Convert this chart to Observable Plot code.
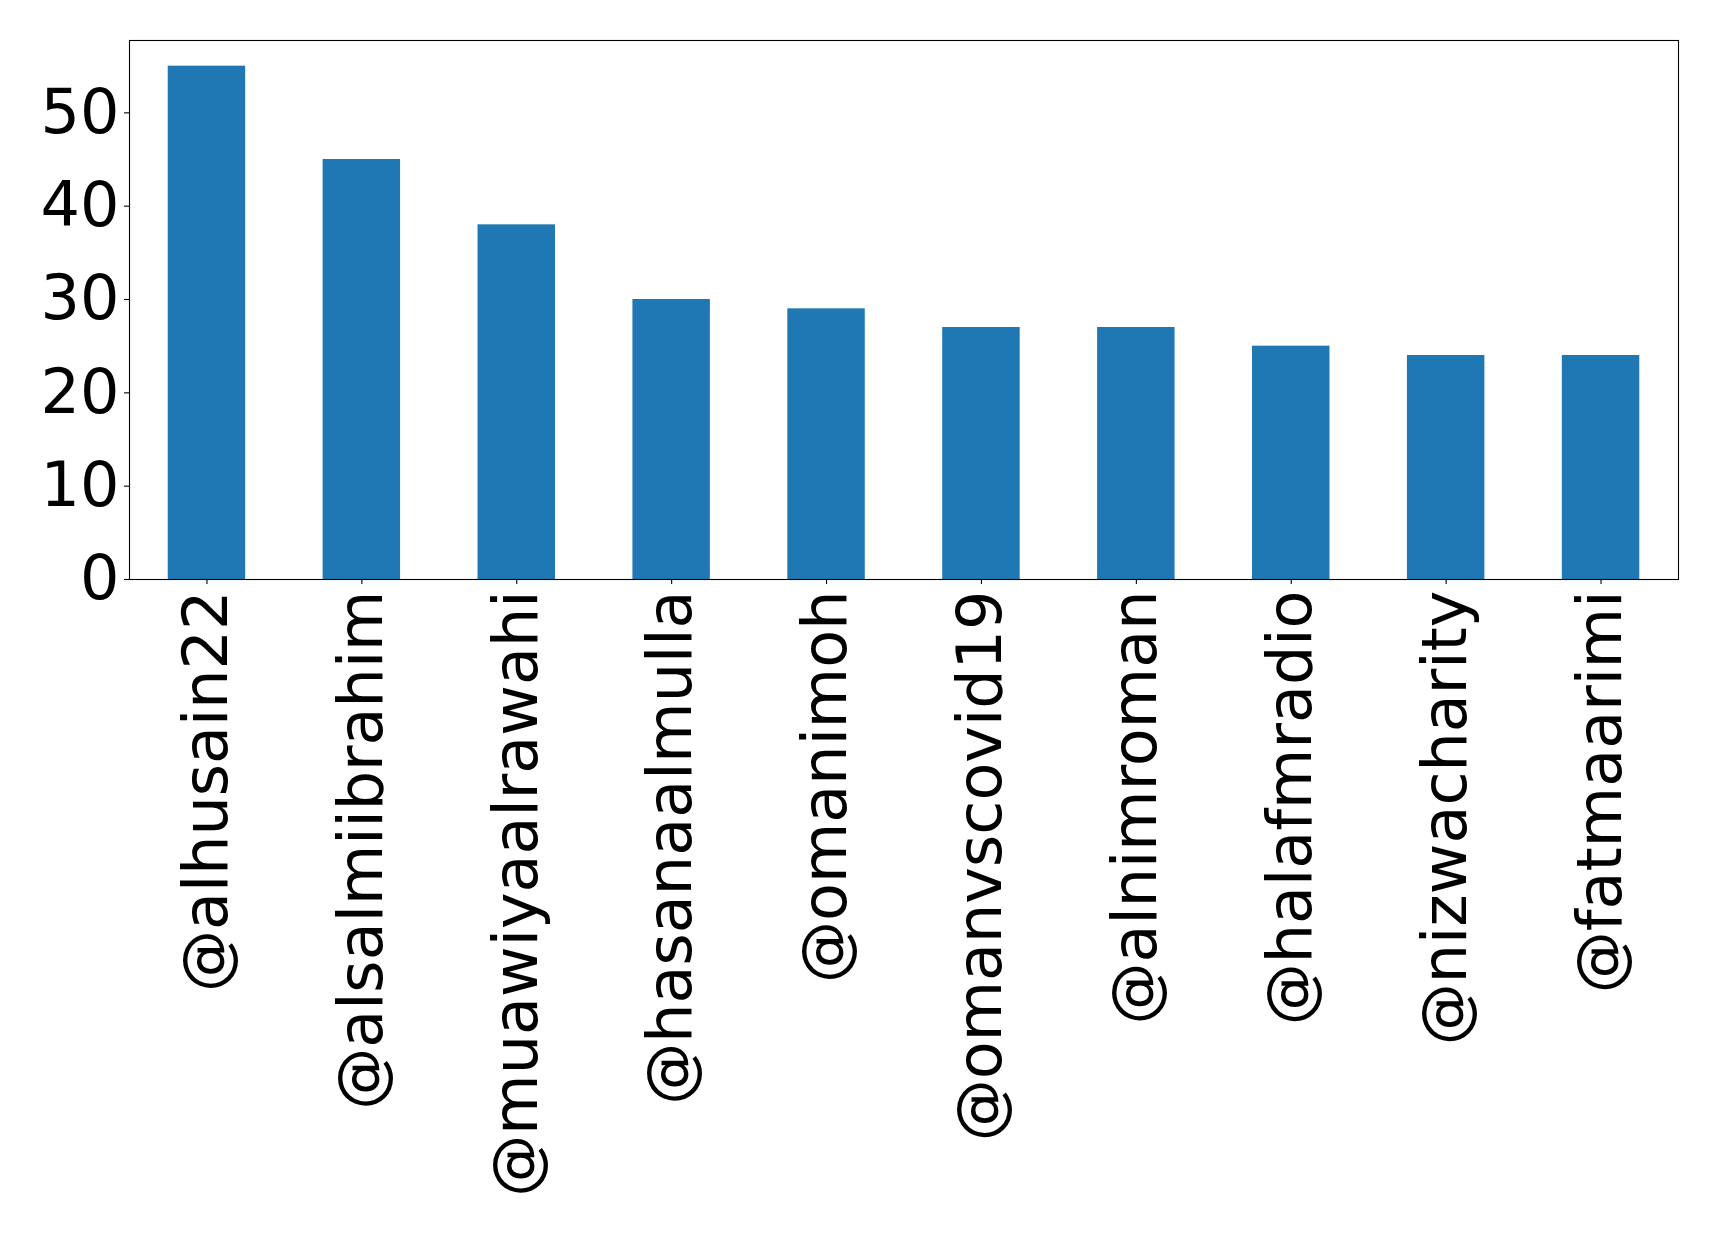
<!DOCTYPE html>
<html>
<head>
<meta charset="utf-8">
<script src="https://cdn.jsdelivr.net/npm/d3@7"></script>
<script src="https://cdn.jsdelivr.net/npm/@observablehq/plot@0.6"></script>
<style>
  html, body { margin: 0; padding: 0; background: #fff; }
  #chart svg { display: block; }
</style>
</head>
<body>
<div id="chart"></div>
<script>
const accounts = ["@alhusain22", "@alsalmiibrahim", "@muawiyaalrawahi", "@hasanaalmulla", "@omanimoh", "@omanvscovid19", "@alnimroman", "@halafmradio", "@nizwacharity", "@fatmaarimi"];
const counts = [55, 45, 38, 30, 29, 27, 27, 25, 24, 24];
const yTicks = [0, 10, 20, 30, 40, 50];

const data = accounts.map((a, i) => ({account: a, count: counts[i]}));
const yMax = d3.max(counts) * 1.05;

const chart = Plot.plot({
  width: 1719,
  height: 1239,
  marginLeft: 129,
  marginRight: 41,
  marginTop: 40,
  marginBottom: 660,
  style: {fontFamily: "'DejaVu Sans', sans-serif", background: "#fff", color: "#000"},
  x: {domain: accounts, paddingInner: 0.5, paddingOuter: 0.25, round: false, label: null},
  y: {domain: [0, yMax], label: null},
  marks: [
    Plot.barY(data, {x: "account", y: "count", fill: "#1f77b4"}),
    Plot.frame({stroke: "#000", strokeWidth: 1.1}),
    Plot.axisY({ticks: yTicks, tickSize: 5, tickPadding: 5, fontSize: 62, label: null, strokeWidth: 1.1}),
    Plot.axisX({tickSize: 5, tickPadding: 6, tickRotate: -90, fontSize: 62, label: null, strokeWidth: 1.1})
  ]
});
document.getElementById("chart").appendChild(chart);
</script>
</body>
</html>
